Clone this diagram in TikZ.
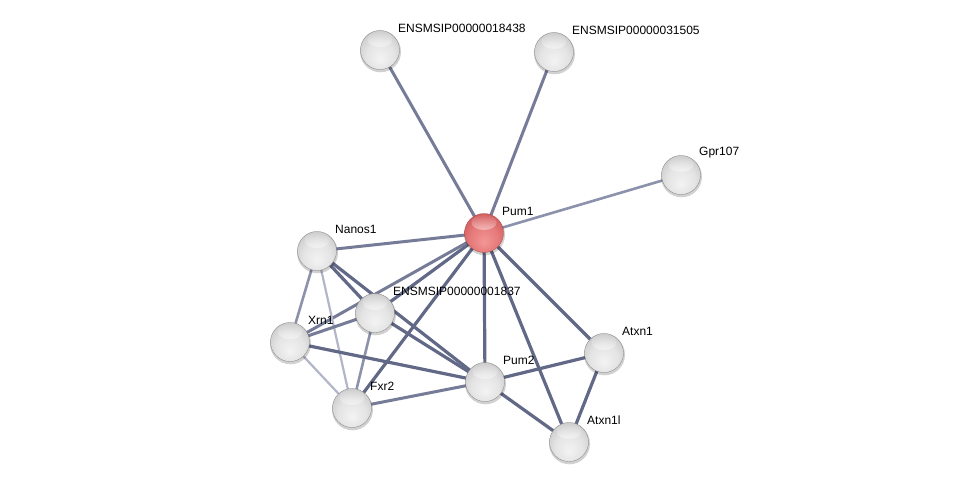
\documentclass[tikz,border=0pt]{standalone}
\usepackage{fontspec}
\setmainfont{Liberation Sans}
\usetikzlibrary{calc,fadings}
\definecolor{edark}{RGB}{98,105,135}
\definecolor{emid}{RGB}{118,124,152}
\definecolor{elight}{RGB}{140,146,172}
\definecolor{efaint}{RGB}{178,182,200}
\definecolor{gA}{RGB}{243,243,243}
\definecolor{gB}{RGB}{228,228,228}
\definecolor{gC}{RGB}{200,200,200}
\definecolor{gD}{RGB}{168,168,168}
\definecolor{gE}{RGB}{135,135,135}
\definecolor{rA}{RGB}{244,150,150}
\definecolor{rB}{RGB}{230,122,122}
\definecolor{rC}{RGB}{205,88,88}
\definecolor{rD}{RGB}{172,56,56}
\definecolor{rE}{RGB}{140,36,36}
\pgfdeclareradialshading{sphgray}{\pgfpoint{0bp}{-12bp}}{color(0bp)=(gA); color(18bp)=(gB); color(32bp)=(gC); color(43bp)=(gD); color(50bp)=(gE)}
\pgfdeclareradialshading{sphred}{\pgfpoint{0bp}{-12bp}}{color(0bp)=(rA); color(18bp)=(rB); color(32bp)=(rC); color(43bp)=(rD); color(50bp)=(rE)}
\tikzset{
  x=1pt, y=1pt,
  sph/.style={circle, minimum size=39pt, inner sep=0pt, shading=sphgray, draw=black!50, line width=0.3pt,
    path picture={\fill[white, path fading=north] ($(path picture bounding box.center)+(0pt,10.5pt)$) ellipse (12.5pt and 7.5pt);}},
  sphr/.style={sph, shading=sphred, draw=rE!80},
  lbl/.style={anchor=west, inner sep=0pt, font=\fontsize{12}{14}\selectfont},
  edk/.style={line width=3.2pt, draw=edark},
  emd/.style={line width=3pt, draw=emid},
  elt/.style={line width=2.6pt, draw=elight},
  efn/.style={line width=2.2pt, draw=efaint},
}
\begin{document}
\begin{tikzpicture}
\fill[white] (0,0) rectangle (975,-487);
\useasboundingbox (0,0) rectangle (975,-487);
% node coordinates
\coordinate (p18438) at (380,-50);
\coordinate (p31505) at (554,-52);
\coordinate (pGpr) at (681,-175);
\coordinate (pPum1) at (484,-233);
\coordinate (pNanos) at (317,-251);
\coordinate (p1837) at (375,-313);
\coordinate (pXrn) at (290,-342);
\coordinate (pPum2) at (485,-382);
\coordinate (pAtxn) at (604,-353);
\coordinate (pAtxnl) at (569,-442);
\coordinate (pFxr) at (352,-408);
% edges
\draw[emd] (pPum1) -- (p18438);
\draw[emd] (pPum1) -- (p31505);
\draw[elt] (pPum1) -- (pGpr);
\draw[emd] (pPum1) -- (pNanos);
\draw[edk] (pPum1) -- (p1837);
\draw[emd] (pPum1) -- (pXrn);
\draw[edk] (pPum1) -- (pFxr);
\draw[edk] (pPum1) -- (pPum2);
\draw[edk] (pPum1) -- (pAtxn);
\draw[edk] (pPum1) -- (pAtxnl);
\draw[elt] (pNanos) -- (pXrn);
\draw[efn] (pNanos) -- (pFxr);
\draw[edk] (pNanos) -- (p1837);
\draw[edk] (pNanos) -- (pPum2);
\draw[emd] (p1837) -- (pXrn);
\draw[elt] (p1837) -- (pFxr);
\draw[edk] (p1837) -- (pPum2);
\draw[edk] (pXrn) -- (pPum2);
\draw[efn] (pXrn) -- (pFxr);
\draw[emd] (pFxr) -- (pPum2);
\draw[edk] (pPum2) -- (pAtxn);
\draw[edk] (pPum2) -- (pAtxnl);
\draw[edk] (pAtxn) -- (pAtxnl);
% nodes
\foreach \p/\n in {p18438/n18438, p31505/n31505, pGpr/nGpr, pNanos/nNanos, p1837/n1837, pXrn/nXrn, pPum2/nPum2, pAtxn/nAtxn, pAtxnl/nAtxnl, pFxr/nFxr}{
  \fill[black, opacity=0.18] ($(\p)+(0.5,-1.8)$) circle (20.5pt);
  \node[sph] (\n) at (\p) {};
}
\fill[black, opacity=0.18] ($(pPum1)+(0.5,-1.8)$) circle (20.5pt);
\node[sphr] (nPum1) at (pPum1) {};
% labels
\node[lbl] (l18438) at ($(n18438.center)+(18,22)$) {ENSMSIP00000018438};
\node[lbl] (l31505) at ($(n31505.center)+(18,22)$) {ENSMSIP00000031505};
\node[lbl] (lGpr) at ($(nGpr.center)+(18,22)$) {Gpr107};
\node[lbl] (lPum1) at ($(nPum1.center)+(18,22)$) {Pum1};
\node[lbl] (lNanos) at ($(nNanos.center)+(18,22)$) {Nanos1};
\node[lbl] (l1837) at ($(n1837.center)+(18,22)$) {ENSMSIP00000001837};
\node[lbl] (lXrn) at ($(nXrn.center)+(18,22)$) {Xrn1};
\node[lbl] (lPum2) at ($(nPum2.center)+(18,22)$) {Pum2};
\node[lbl] (lAtxn) at ($(nAtxn.center)+(18,22)$) {Atxn1};
\node[lbl] (lAtxnl) at ($(nAtxnl.center)+(18,22)$) {Atxn1l};
\node[lbl] (lFxr) at ($(nFxr.center)+(18,22)$) {Fxr2};
\end{tikzpicture}
\end{document}
